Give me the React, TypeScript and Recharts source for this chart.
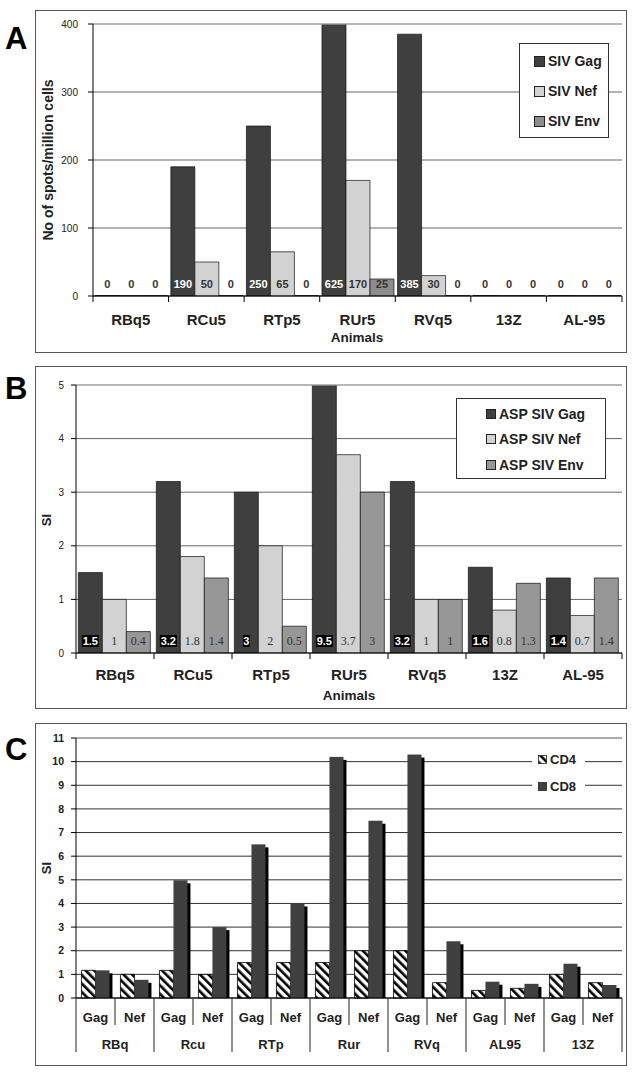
import React from 'react';
import { BarChart, Bar, XAxis, YAxis, CartesianGrid, Legend, LabelList, ReferenceLine } from 'recharts';

const SANS = "'Liberation Sans', Arial, sans-serif";
const NARROW = "'Liberation Sans Narrow', 'Liberation Sans', Arial, sans-serif";
const SERIF = "'Liberation Serif', 'Times New Roman', serif";

// panel A: ELISPOT
const animals = ['RBq5', 'RCu5', 'RTp5', 'RUr5', 'RVq5', '13Z', 'AL-95'];
const spotsGag = [0, 190, 250, 625, 385, 0, 0];
const spotsNef = [0, 50, 65, 170, 30, 0, 0];
const spotsEnv = [0, 0, 0, 25, 0, 0, 0];
const spotTicks = [0, 100, 200, 300, 400];
const seriesA = ['SIV Gag', 'SIV Nef', 'SIV Env'];

// panel B: ASP stimulation index
const siGag = [1.5, 3.2, 3, 9.5, 3.2, 1.6, 1.4];
const siNef = [1, 1.8, 2, 3.7, 1, 0.8, 0.7];
const siEnv = [0.4, 1.4, 0.5, 3, 1, 1.3, 1.4];
const siTicks = [0, 1, 2, 3, 4, 5];
const seriesB = ['ASP SIV Gag', 'ASP SIV Nef', 'ASP SIV Env'];

// panel C: CD4 / CD8
const cGroups = ['RBq', 'Rcu', 'RTp', 'Rur', 'RVq', 'AL95', '13Z'];
const cAntigens = ['Gag', 'Nef'];
const cd4 = [1.17, 1.0, 1.17, 1.0, 1.5, 1.5, 1.5, 2.0, 2.0, 0.65, 0.32, 0.41, 1.0, 0.65];
const cd8 = [1.17, 0.77, 4.98, 3.0, 6.5, 4.0, 10.2, 7.5, 10.3, 2.4, 0.69, 0.6, 1.45, 0.55];
const cTicks = [0, 1, 2, 3, 4, 5, 6, 7, 8, 9, 10, 11];
const seriesC = ['CD4', 'CD8'];

const dataA = animals.map((name, i) => ({ name, gag: spotsGag[i], nef: spotsNef[i], env: spotsEnv[i] }));
const dataB = animals.map((name, i) => ({ name, gag: siGag[i], nef: siNef[i], env: siEnv[i] }));
const dataC = cGroups.flatMap((group, gi) =>
  cAntigens.map((antigen, ai) => ({
    key: group + '-' + antigen,
    group,
    antigen,
    cd4: cd4[gi * 2 + ai],
    cd8: cd8[gi * 2 + ai],
  }))
);

const BAND_A = (622 - 93) / animals.length;
const BAND_B = (622 - 76) / animals.length;
const BAND_C = (622 - 76) / dataC.length;

const ordered = (payload: any[], order: string[]) =>
  [...(payload || [])].sort((a, b) => order.indexOf(a.value) - order.indexOf(b.value));

const CategoryTick = (props: any) => {
  const { x, y, payload, index, band, count, dy } = props;
  return (
    <g>
      <line x1={x - band / 2} x2={x - band / 2} y1={y} y2={y + 6} stroke="#000" />
      {index === count - 1 && <line x1={x + band / 2} x2={x + band / 2} y1={y} y2={y + 6} stroke="#000" />}
      <text x={x} y={y + dy} textAnchor="middle" fontFamily={SANS} fontWeight="bold" fontSize={15} fill="#222">
        {payload.value}
      </text>
    </g>
  );
};

const TwoTierTick = (props: any) => {
  const { x, y, index } = props;
  const d = dataC[index];
  if (!d) return null;
  const half = BAND_C / 2;
  const first = index % 2 === 0;
  return (
    <g>
      <line x1={x - half} x2={x - half} y1={y} y2={y + (first ? 54 : 27)} stroke="#222" />
      {index === dataC.length - 1 && <line x1={x + half} x2={x + half} y1={y} y2={y + 54} stroke="#222" />}
      <text x={x} y={y + 24} textAnchor="middle" fontFamily={SANS} fontWeight="bold" fontSize={13} fill="#222">
        {d.antigen}
      </text>
      {first && (
        <text x={x + half} y={y + 51} textAnchor="middle" fontFamily={SANS} fontWeight="bold" fontSize={13} fill="#222">
          {d.group}
        </text>
      )}
    </g>
  );
};

const valueLabel = (color: string, font: string, size: number, boxed = false) => (props: any) => {
  const x = Number(props.x), w = Number(props.width);
  const y = Number(props.y), hh = Number(props.height);
  const base = Math.max(y, y + hh);
  const txt = String(props.value);
  const zero = Number(props.value) === 0;
  const cx = x + w / 2;
  const bw = txt.length * 5 + 2;
  return (
    <g>
      {boxed && !zero && <rect x={cx - bw / 2} y={base - 18} width={bw} height={12} fill="#000" />}
      <text x={cx} y={base - 8} textAnchor="middle" fill={zero ? '#333' : color} fontFamily={font}
        fontWeight={font === SERIF ? 'normal' : 'bold'} fontSize={size}>
        {txt}
      </text>
    </g>
  );
};

const ShadowBar = (props: any) => {
  const { x, y, width, height } = props;
  if (!height || height <= 0) return null;
  return (
    <g>
      <rect x={x + 3} y={y + 3} width={width} height={Math.max(0, height - 3)} fill="#000" />
      <rect x={x} y={y} width={width} height={height} fill="#404040" />
    </g>
  );
};

const BoxLegend = (props: any) => {
  const { payload, order, rowH, padLeft, padTop, swatch, width, height } = props;
  return (
    <div style={{ boxSizing: 'border-box', width, height, border: '1px solid #333', background: '#fff', paddingLeft: padLeft, paddingTop: padTop }}>
      {ordered(payload, order).map((e: any) => (
        <div key={e.value} style={{ height: rowH, display: 'flex', alignItems: 'center', fontFamily: SANS, fontWeight: 'bold', fontSize: 14, color: '#222' }}>
          <span style={{ display: 'inline-block', width: swatch, height: swatch, background: e.color, border: '1px solid #222', marginRight: 3 }} />
          {e.value}
        </div>
      ))}
    </div>
  );
};

const PlainLegend = (props: any) => {
  const { payload } = props;
  return (
    <div style={{ width: 53, height: 54, background: '#fff', paddingLeft: 6, boxSizing: 'border-box' }}>
      {ordered(payload, seriesC).map((e: any) => (
        <div key={e.value} style={{ height: 27, display: 'flex', alignItems: 'center', fontFamily: SANS, fontWeight: 'bold', fontSize: 13, color: '#222' }}>
          <svg width={9} height={9} style={{ marginRight: 3 }}>
            <rect x={0.5} y={0.5} width={8} height={8} fill={e.color} stroke="#222" strokeWidth={0.8} />
          </svg>
          {e.value}
        </div>
      ))}
    </div>
  );
};

const frame = (top: number, height: number): React.CSSProperties => ({
  position: 'absolute', left: 35, top, width: 592, height, border: '1.5px solid #555', boxSizing: 'border-box',
});

const letter = (top: number): React.CSSProperties => ({
  position: 'absolute', left: 5, top, fontFamily: SANS, fontWeight: 'bold', fontSize: 31, lineHeight: '31px', color: '#000',
});

const vtitle = (cx: number, cy: number, w: number, size: number): React.CSSProperties => ({
  position: 'absolute', left: cx - w / 2, top: cy - 10, width: w, height: 20, lineHeight: '20px', textAlign: 'center',
  transform: 'rotate(-90deg)', fontFamily: SANS, fontWeight: 'bold', fontSize: size, color: '#222', whiteSpace: 'nowrap',
});

const htitle = (cx: number, cy: number): React.CSSProperties => ({
  position: 'absolute', left: cx - 60, top: cy - 9, width: 120, height: 18, lineHeight: '18px', textAlign: 'center',
  fontFamily: SANS, fontWeight: 'bold', fontSize: 13.5, color: '#222',
});

const axisTick = { fontSize: 10, fill: '#222', fontFamily: SANS };

export default function App() {
  return (
    <div style={{ position: 'absolute', left: 0, top: 0, width: 635, height: 1075, background: '#fff' }}>
      <div style={frame(10, 343)} />
      <div style={frame(366, 343)} />
      <div style={frame(723, 343)} />

      <div style={{ position: 'absolute', left: 0, top: 0 }}>
        <BarChart width={635} height={360} data={dataA} margin={{ top: 24, right: 13, bottom: 0, left: 53 }}
          barCategoryGap="3%" barGap={0}>
          <CartesianGrid vertical={false} stroke="#666" />
          <ReferenceLine y={400} stroke="#bbb" />
          <XAxis dataKey="name" height={64} interval={0} tickSize={0} tickMargin={0} tickLine={false}
            axisLine={{ stroke: '#000' }}
            tick={(p: any) => <CategoryTick {...p} band={BAND_A} count={animals.length} dy={29} />} />
          <YAxis domain={[0, 400]} ticks={spotTicks} allowDataOverflow width={40} tickSize={5} tickMargin={10}
            axisLine={{ stroke: '#000' }} tickLine={{ stroke: '#000' }} tick={axisTick} />
          <YAxis yAxisId="edge" orientation="right" width={0} tick={false} tickLine={false} axisLine={{ stroke: '#bbb' }} />
          <Legend verticalAlign="middle" align="center" wrapperStyle={{ left: 519, top: 43, width: 90, height: 95 }}
            content={(p: any) => <BoxLegend {...p} order={seriesA} width={90} height={95} rowH={30} padLeft={14} padTop={2} swatch={9} />} />
          <Bar dataKey="gag" name={seriesA[0]} fill="#3f3f3f" stroke="#111" strokeWidth={0.7} minPointSize={0.5} isAnimationActive={false}>
            <LabelList dataKey="gag" content={valueLabel('#fff', NARROW, 11)} />
          </Bar>
          <Bar dataKey="nef" name={seriesA[1]} fill="#d2d2d2" stroke="#111" strokeWidth={0.7} minPointSize={0.5} isAnimationActive={false}>
            <LabelList dataKey="nef" content={valueLabel('#333', NARROW, 11)} />
          </Bar>
          <Bar dataKey="env" name={seriesA[2]} fill="#8c8c8c" stroke="#111" strokeWidth={0.7} minPointSize={0.5} isAnimationActive={false}>
            <LabelList dataKey="env" content={valueLabel('#333', NARROW, 11)} />
          </Bar>
        </BarChart>
      </div>

      <div style={{ position: 'absolute', left: 0, top: 360 }}>
        <BarChart width={635} height={350} data={dataB} margin={{ top: 25, right: 13, bottom: 0, left: 36 }}
          barCategoryGap="3%" barGap={0}>
          <CartesianGrid vertical={false} stroke="#666" />
          <ReferenceLine y={5} stroke="#bbb" />
          <XAxis dataKey="name" height={57} interval={0} tickSize={0} tickMargin={0} tickLine={false}
            axisLine={{ stroke: '#000' }}
            tick={(p: any) => <CategoryTick {...p} band={BAND_B} count={animals.length} dy={27} />} />
          <YAxis domain={[0, 5]} ticks={siTicks} allowDataOverflow width={40} tickSize={5} tickMargin={7}
            axisLine={{ stroke: '#000' }} tickLine={{ stroke: '#000' }} tick={axisTick} />
          <YAxis yAxisId="edge" orientation="right" width={0} tick={false} tickLine={false} axisLine={{ stroke: '#bbb' }} />
          <Legend verticalAlign="middle" align="center" wrapperStyle={{ left: 456, top: 38, width: 150, height: 81 }}
            content={(p: any) => <BoxLegend {...p} order={seriesB} width={150} height={81} rowH={25.5} padLeft={29} padTop={2} swatch={8} />} />
          <Bar dataKey="gag" name={seriesB[0]} fill="#3f3f3f" stroke="#111" strokeWidth={0.7} isAnimationActive={false}>
            <LabelList dataKey="gag" content={valueLabel('#fff', SANS, 11, true)} />
          </Bar>
          <Bar dataKey="nef" name={seriesB[1]} fill="#d2d2d2" stroke="#111" strokeWidth={0.7} isAnimationActive={false}>
            <LabelList dataKey="nef" content={valueLabel('#333', SERIF, 12)} />
          </Bar>
          <Bar dataKey="env" name={seriesB[2]} fill="#979797" stroke="#111" strokeWidth={0.7} isAnimationActive={false}>
            <LabelList dataKey="env" content={valueLabel('#333', SERIF, 12)} />
          </Bar>
        </BarChart>
      </div>

      <div style={{ position: 'absolute', left: 0, top: 700 }}>
        <BarChart width={635} height={360} data={dataC} margin={{ top: 38, right: 13, bottom: 0, left: 36 }}
          barCategoryGap="14%" barGap={0}>
          <defs>
            <pattern id="hatch" patternUnits="userSpaceOnUse" width="6" height="6" patternTransform="rotate(-45)">
              <rect width="6" height="6" fill="#fff" />
              <rect width="2.6" height="6" fill="#000" />
            </pattern>
          </defs>
          <CartesianGrid vertical={false} stroke="#333" />
          <ReferenceLine y={11} stroke="#bbb" />
          <XAxis dataKey="key" height={62} interval={0} tickSize={0} tickMargin={0} tickLine={false}
            axisLine={{ stroke: '#000' }} tick={(p: any) => <TwoTierTick {...p} />} />
          <YAxis domain={[0, 11]} ticks={cTicks} width={40} tickSize={5} tickMargin={7}
            axisLine={{ stroke: '#000' }} tickLine={{ stroke: '#000' }}
            tick={{ fontSize: 10.5, fill: '#222', fontFamily: SANS, fontWeight: 'bold' }} />
          <YAxis yAxisId="edge" orientation="right" width={0} tick={false} tickLine={false} axisLine={{ stroke: '#bbb' }} />
          <Legend verticalAlign="middle" align="center" wrapperStyle={{ left: 532, top: 46, width: 53, height: 54 }}
            content={(p: any) => <PlainLegend {...p} />} />
          <Bar dataKey="cd4" name={seriesC[0]} fill="url(#hatch)" stroke="#000" strokeWidth={0.8} isAnimationActive={false} />
          <Bar dataKey="cd8" name={seriesC[1]} fill="#404040" shape={(p: any) => <ShadowBar {...p} />} isAnimationActive={false} />
        </BarChart>
      </div>

      <div style={letter(23)}>A</div>
      <div style={letter(373)}>B</div>
      <div style={letter(734)}>C</div>

      <div style={vtitle(48, 160, 200, 14)}>No of spots/million cells</div>
      <div style={htitle(357, 338)}>Animals</div>
      <div style={vtitle(47, 520, 40, 13)}>SI</div>
      <div style={htitle(349, 696)}>Animals</div>
      <div style={vtitle(47, 868, 40, 13)}>SI</div>
    </div>
  );
}
